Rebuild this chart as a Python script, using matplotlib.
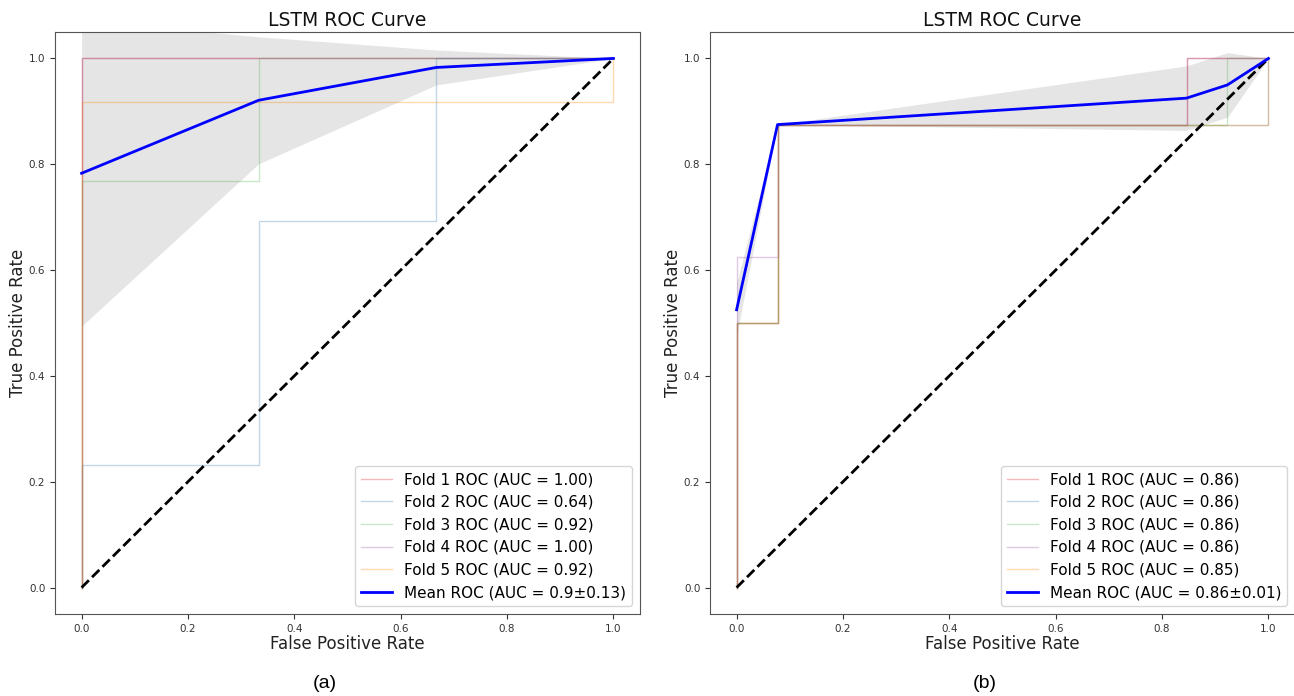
import matplotlib
matplotlib.use("Agg")
from matplotlib import pyplot as plt

# ---- (a) left panel: fold ROC curves ----
a_fold_fpr = [
    [0.0, 0.0, 1.0],
    [0.0, 0.0, 0.333, 0.333, 0.667, 0.667, 1.0],
    [0.0, 0.0, 0.333, 0.333, 1.0],
    [0.0, 0.0, 1.0],
    [0.0, 0.0, 1.0, 1.0],
]
a_fold_tpr = [
    [0.0, 1.0, 1.0],
    [0.0, 0.231, 0.231, 0.692, 0.692, 1.0, 1.0],
    [0.0, 0.769, 0.769, 1.0, 1.0],
    [0.0, 1.0, 1.0],
    [0.0, 0.917, 0.917, 1.0],
]
a_fold_auc = ["1.00", "0.64", "0.92", "1.00", "0.92"]
a_mean_fpr = [0.0, 0.333, 0.667, 1.0]
a_mean_tpr = [0.783, 0.921, 0.983, 1.0]
a_std_tpr = [0.289, 0.120, 0.033, 0.0]
a_mean_label = "Mean ROC (AUC = 0.9\u00b10.13)"

# ---- (b) right panel ----
b_fold_fpr = [
    [0.0, 0.0, 0.077, 0.077, 0.846, 0.846, 1.0],
    [0.0, 0.0, 0.077, 0.077, 1.0, 1.0],
    [0.0, 0.0, 0.077, 0.077, 0.923, 0.923, 1.0],
    [0.0, 0.0, 0.077, 0.077, 0.846, 0.846, 1.0],
    [0.0, 0.0, 0.077, 0.077, 1.0, 1.0],
]
b_fold_tpr = [
    [0.0, 0.5, 0.5, 0.875, 0.875, 1.0, 1.0],
    [0.0, 0.5, 0.5, 0.875, 0.875, 1.0],
    [0.0, 0.5, 0.5, 0.875, 0.875, 1.0, 1.0],
    [0.0, 0.625, 0.625, 0.875, 0.875, 1.0, 1.0],
    [0.0, 0.5, 0.5, 0.875, 0.875, 1.0],
]
b_fold_auc = ["0.86", "0.86", "0.86", "0.86", "0.85"]
b_mean_fpr = [0.0, 0.077, 0.846, 0.923, 1.0]
b_mean_tpr = [0.525, 0.875, 0.925, 0.95, 1.0]
b_std_tpr = [0.05, 0.0, 0.061, 0.061, 0.0]
b_mean_label = "Mean ROC (AUC = 0.86\u00b10.01)"

fold_colors = ["#e41a1c", "#377eb8", "#4daf4a", "#984ea3", "#ff7f00"]


def Plot_ROC(ax, fold_fpr, fold_tpr, fold_auc, mean_fpr, mean_tpr, std_tpr, mean_label):
    for ii in range(0, len(fold_fpr)):
        ax.plot(fold_fpr[ii], fold_tpr[ii], color=fold_colors[ii], lw=1, alpha=0.3,
                label="Fold " + str(ii + 1) + " ROC (AUC = " + fold_auc[ii] + ")")
    ax.plot([0, 1], [0, 1], "k--", lw=2)
    ax.plot(mean_fpr, mean_tpr, color="b", lw=2, label=mean_label)
    upper = [m + s for m, s in zip(mean_tpr, std_tpr)]
    lower = [m - s for m, s in zip(mean_tpr, std_tpr)]
    ax.fill_between(mean_fpr, lower, upper, color="grey", alpha=0.2, lw=0)

    ax.set_xlim(-0.05, 1.05)
    ax.set_ylim(-0.05, 1.05)
    ax.set_xticks([0.0, 0.2, 0.4, 0.6, 0.8, 1.0])
    ax.set_yticks([0.0, 0.2, 0.4, 0.6, 0.8, 1.0])
    ax.tick_params(labelsize=7.5, colors="#333333")
    for sp in ax.spines.values():
        sp.set_color("#555555")
    ax.set_xlabel("False Positive Rate", fontsize=12, color="#222222", labelpad=1)
    ax.set_ylabel("True Positive Rate", fontsize=12, color="#222222", labelpad=1)
    ax.set_title("LSTM ROC Curve", fontsize=13.5, pad=4, color="#111111")
    ax.legend(loc="lower right", fontsize=11)


fig = plt.figure(figsize=(12.94, 6.96), dpi=100)
ax1 = fig.add_axes([55 / 1294, 82 / 696, 585 / 1294, 582 / 696])
ax2 = fig.add_axes([710 / 1294, 82 / 696, 585 / 1294, 582 / 696])

Plot_ROC(ax1, a_fold_fpr, a_fold_tpr, a_fold_auc, a_mean_fpr, a_mean_tpr, a_std_tpr, a_mean_label)
Plot_ROC(ax2, b_fold_fpr, b_fold_tpr, b_fold_auc, b_mean_fpr, b_mean_tpr, b_std_tpr, b_mean_label)

fig.text(325 / 1294, 13 / 696, "(a)", ha="center", va="center", fontsize=14, family="Liberation Sans")
fig.text(985 / 1294, 13 / 696, "(b)", ha="center", va="center", fontsize=14, family="Liberation Sans")

fig.savefig("out.png", dpi=100)
